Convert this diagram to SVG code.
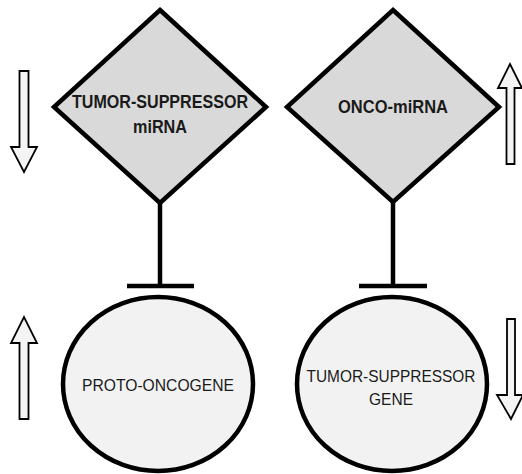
<svg xmlns="http://www.w3.org/2000/svg" width="522" height="474" viewBox="0 0 522 474">
<style>
.dia{fill:#d9d9d9;stroke:#000;stroke-width:4.5;stroke-linejoin:miter}
.circ{fill:#f2f2f2;stroke:#000;stroke-width:4.5}
.con{stroke:#000;stroke-width:4.5;fill:none}
.arr{fill:#f4f4f4;stroke:#000;stroke-width:1.8;stroke-linejoin:miter}
.tb{font-family:"Liberation Sans",Arial,sans-serif;font-weight:bold;font-size:17.5px;fill:#1a1a1a;text-anchor:middle}
.tn{font-family:"Liberation Sans",Arial,sans-serif;font-size:16.5px;fill:#1a1a1a;text-anchor:middle}
</style>
<rect width="522" height="474" fill="#fff"/>
<g id="connectors">
<line class="con" x1="160" y1="203" x2="160" y2="286"/>
<line class="con" x1="127" y1="286" x2="194" y2="286"/>
<line class="con" x1="393" y1="202" x2="393" y2="286"/>
<line class="con" x1="359" y1="286" x2="427" y2="286"/>
</g>
<g id="tumor-suppressor-mirna">
<polygon class="dia" points="160,10 266,107 160,203 54,107"/>
<text class="tb" x="160" y="108" textLength="176" lengthAdjust="spacingAndGlyphs">TUMOR-SUPPRESSOR</text>
<text class="tb" x="160" y="133" textLength="54" lengthAdjust="spacingAndGlyphs">miRNA</text>
</g>
<g id="onco-mirna">
<polygon class="dia" points="393,10 499,107 393,202 287,107"/>
<text class="tb" x="393" y="113" textLength="110" lengthAdjust="spacingAndGlyphs">ONCO-miRNA</text>
</g>
<g id="proto-oncogene">
<ellipse class="circ" cx="158" cy="384" rx="95" ry="87"/>
<text class="tn" x="158" y="391" textLength="152" lengthAdjust="spacingAndGlyphs">PROTO-ONCOGENE</text>
</g>
<g id="tumor-suppressor-gene">
<ellipse class="circ" cx="392" cy="384" rx="95" ry="87"/>
<text class="tn" x="391" y="382" textLength="169" lengthAdjust="spacingAndGlyphs">TUMOR-SUPPRESSOR</text>
<text class="tn" x="391" y="405" textLength="44" lengthAdjust="spacingAndGlyphs">GENE</text>
</g>
<g id="arrow-down-left">
<polygon class="arr" points="19.5,71 28.5,71 28.5,147 37,147 24,172 11,147 19.5,147"/>
</g>
<g id="arrow-up-right">
<polygon class="arr" points="506.5,164 514.5,164 514.5,88 522,88 510,64 498,88 506.5,88"/>
</g>
<g id="arrow-up-left">
<polygon class="arr" points="19.5,419 28.5,419 28.5,343 37,343 24,317 11,343 19.5,343"/>
</g>
<g id="arrow-down-right">
<polygon class="arr" points="507,319 515,319 515,395 523,395 511,419 497,395 507,395"/>
</g>
</svg>
